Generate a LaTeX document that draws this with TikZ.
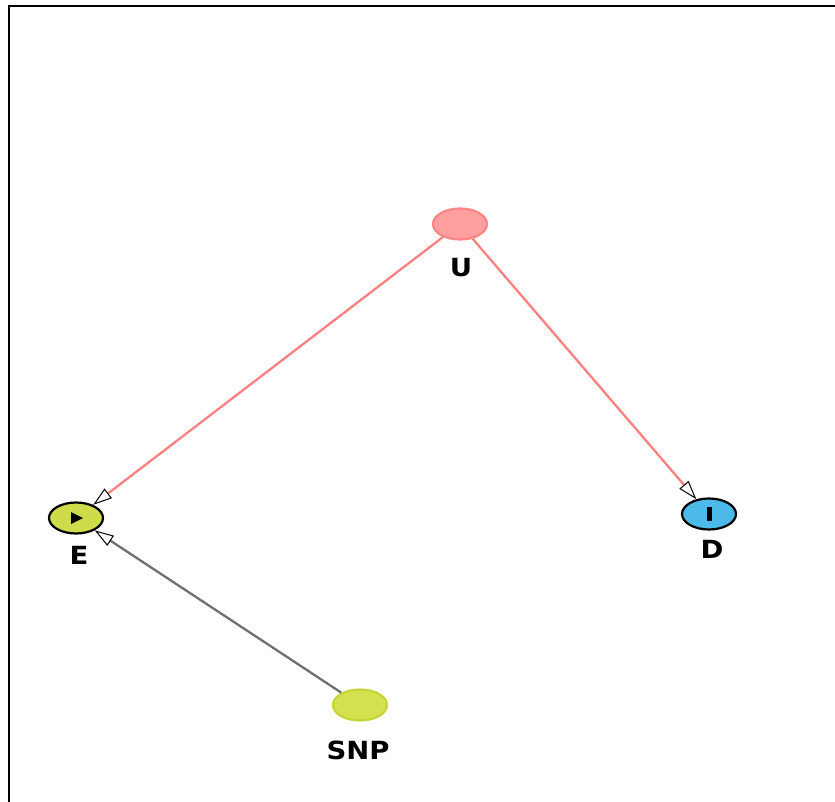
\documentclass[tikz,border=0pt]{standalone}
\usepackage{fontspec}
\setmainfont{DejaVu Sans}[FakeStretch=1.1]
\usetikzlibrary{shapes.geometric,arrows.meta}
\definecolor{uFill}{HTML}{FF9F9F}
\definecolor{uDraw}{HTML}{FF8585}
\definecolor{eFill}{HTML}{CEDC4C}
\definecolor{dFill}{HTML}{4CBAE8}
\definecolor{snpFill}{HTML}{D3E04F}
\definecolor{snpDraw}{HTML}{C4D535}
\definecolor{pinkEdge}{HTML}{FF8080}
\definecolor{grayEdge}{HTML}{707070}
\tikzset{
  var/.style={ellipse, minimum width=54pt, minimum height=31pt, inner sep=0pt, line width=2.2pt},
  lbl/.style={font=\fontsize{25}{28}\selectfont\bfseries, text=black, inner sep=0pt},
  tipopen/.style={-{Triangle[length=19pt, width=12pt, fill=white, color=black, line width=1pt]}},
  pinkarc/.style={draw=pinkEdge, line width=2.3pt, tipopen},
  grayarc/.style={draw=grayEdge, line width=2.3pt, tipopen},
}
\begin{document}
\begin{tikzpicture}[x=1pt,y=-1pt]
\useasboundingbox (0,0) rectangle (835,802);
\draw[line width=2.5pt, black] (9,802) -- (9,6) -- (835,6);

\node[var, fill=uFill, draw=uDraw] (U) at (460,224) {};
\node[var, fill=eFill, draw=black] (E) at (76,518) {};
\node[var, fill=dFill, draw=black] (D) at (709,514) {};
\node[var, fill=snpFill, draw=snpDraw] (SNP) at (360,705) {};

\fill[black] (E.center) ++(-5,-6) -- ++(12,6) -- ++(-12,6) -- cycle;
\fill[black] (D.center) ++(-2.5,-7) rectangle ++(5,14);

\node[lbl] (lU) at (461,268) {U};
\node[lbl] (lE) at (79,555) {E};
\node[lbl] (lD) at (712,549) {D};
\node[lbl] (lSNP) at (358,750) {SNP};

\draw[pinkarc] (U) -- (E);
\draw[pinkarc] (U) -- (D);
\draw[grayarc] (SNP) -- (E);
\end{tikzpicture}
\end{document}
